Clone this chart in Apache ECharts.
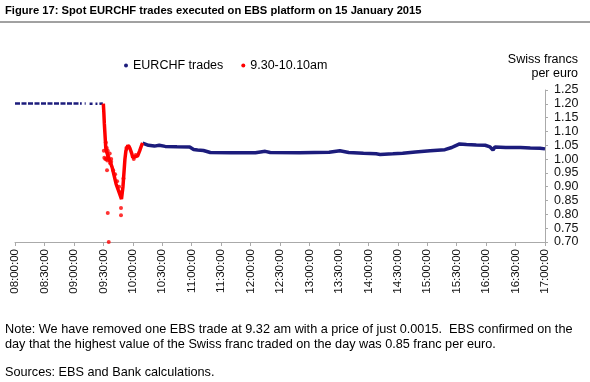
<!DOCTYPE html>
<html>
<head>
<meta charset="utf-8">
<script src="https://cdn.jsdelivr.net/npm/echarts@6/dist/echarts.min.js"></script>
<style>
html,body{margin:0;padding:0;background:#fff;}
#c{width:590px;height:382px;}
</style>
</head>
<body>
<div id="c"></div>
<script>
// ---- Data ----
var xTicks = ['08:00:00','08:30:00','09:00:00','09:30:00','10:00:00','10:30:00','11:00:00','11:30:00','12:00:00','12:30:00','13:00:00','13:30:00','14:00:00','14:30:00','15:00:00','15:30:00','16:00:00','16:30:00','17:00:00'];
var yTicks = [0.70,0.75,0.80,0.85,0.90,0.95,1.00,1.05,1.10,1.15,1.20,1.25];

// Blue trades before 09:30 (sparse, null = gap)
var preTimes  = ['08:00','09:08',null,'09:11','09:12',null,'09:16','09:19',null,'09:22','09:24',null,'09:26','09:29:30'];
var preValues = [1.201,1.201,null,1.201,1.201,null,1.200,1.200,null,1.200,1.200,null,1.200,1.201];

// Blue trades after 10:10
var postTimes  = ['10:10','10:12','10:16','10:22','10:27','10:33','10:45','10:58','11:02','11:06','11:12','11:19','11:40','12:05','12:15','12:20','12:50','13:20','13:31','13:40','13:55','14:08','14:12','14:25','14:35','14:48','15:03','15:18','15:25','15:28','15:33','15:40','15:50','15:59','16:04','16:07','16:09','16:20','16:35','16:45','16:55','17:00'];
var postValues = [1.058,1.052,1.050,1.047,1.050,1.046,1.045,1.044,1.035,1.033,1.031,1.024,1.023,1.023,1.028,1.024,1.023,1.025,1.030,1.024,1.021,1.019,1.017,1.019,1.021,1.026,1.030,1.034,1.042,1.047,1.055,1.053,1.051,1.050,1.044,1.033,1.044,1.042,1.042,1.040,1.039,1.037];

// Red trades 9.30-10.10am, main path
var redTimes  = ['09:30:00','09:30:30','09:31:00','09:31:30','09:32:00','09:32:30','09:33:00','09:34:00','09:35:00','09:36:00','09:37:00','09:39:00','09:41:00','09:43:00','09:45:00','09:47:00','09:48:30','09:49:00','09:50:00','09:51:00','09:52:00','09:53:00','09:55:00','09:57:00','09:59:00','10:00:00','10:02:00','10:05:00','10:07:00','10:09:00','10:10:00'];
var redValues = [1.201,1.17,1.13,1.10,1.07,1.04,1.03,1.02,1.005,1.00,0.99,0.97,0.94,0.91,0.89,0.87,0.855,0.86,0.90,0.95,1.00,1.03,1.05,1.04,1.02,1.005,1.01,1.012,1.03,1.05,1.058];

// Red scattered trades (blob and outliers)
var redDotTimes  = ['09:30:30','09:31:00','09:32:00','09:32:30','09:33:00','09:33:30','09:33:45','09:34:00','09:34:30','09:34:30','09:35:00','09:35:30','09:36:00','09:36:30','09:37:00','09:38:00','09:38:00','09:40:00','09:42:00','09:44:00','09:46:00','09:47:00','09:48:00','09:48:00','09:50:30','09:53:30','09:56:00','10:01:00','10:03:00'];
var redDotValues = [1.03,1.005,1.00,1.06,1.00,1.04,0.96,0.995,1.03,0.805,1.01,0.70,1.00,1.02,0.985,1.00,0.99,0.96,0.945,0.92,0.90,0.88,0.823,0.797,0.93,1.04,1.045,1.00,1.015];

// ---- Helpers ----
function toMin(t){ if(t===null) return null; var p=t.split(':'); return (+p[0]-8)*60 + (+p[1]) + (p[2]? +p[2]/60 : 0); }
function pairs(ts, vs){ return ts.map(function(t,i){ return t===null ? [null,null] : [toMin(t), vs[i]]; }); }

var FONT = "'Liberation Sans', Arial, sans-serif";
var BLUE = '#1c1c7c';
var RED = '#ff0000';

var chart = echarts.init(document.getElementById('c'), null, {renderer:'canvas'});
chart.setOption({
  animation:false,
  backgroundColor:'#fff',
  textStyle:{fontFamily:FONT},
  grid:{left:15, right:45, top:90, bottom:140},
  legend:{
    left:119, top:54, icon:'circle', itemWidth:4, itemHeight:4, itemGap:18,
    textStyle:{fontFamily:FONT, fontSize:12.5, color:'#000'},
    data:[{name:'EURCHF trades', itemStyle:{color:BLUE}},{name:'9.30-10.10am', itemStyle:{color:RED}}]
  },
  xAxis:{
    type:'value', min:0, max:540, interval:30,
    axisLine:{show:true, onZero:false, lineStyle:{color:'#aaa', width:1}},
    axisTick:{show:true, length:4, lineStyle:{color:'#aaa'}},
    splitLine:{show:false},
    axisLabel:{rotate:90, margin:7, fontSize:11.5, color:'#111', fontFamily:FONT,
      formatter:function(v){ return xTicks[Math.round(v/30)]; }}
  },
  yAxis:{
    type:'value', position:'right', min:0.70, max:1.25, interval:0.05,
    axisLine:{show:true, onZero:false, lineStyle:{color:'#aaa', width:1}},
    axisTick:{show:true, length:3, lineStyle:{color:'#aaa'}},
    splitLine:{show:false},
    axisLabel:{margin:9, fontSize:12.5, color:'#111', fontFamily:FONT,
      formatter:function(v){ return v.toFixed(2); }}
  },
  series:[
    {name:'EURCHF trades', type:'line', data:pairs(preTimes, preValues), showSymbol:false, connectNulls:false,
      lineStyle:{color:BLUE, width:2.5, type:[5,1.5]}, itemStyle:{color:BLUE}},
    {name:'EURCHF trades', type:'line', data:pairs(postTimes, postValues), showSymbol:false,
      lineStyle:{color:BLUE, width:3.5}, itemStyle:{color:BLUE}},
    {name:'9.30-10.10am', type:'line', data:pairs(redTimes, redValues), showSymbol:false,
      lineStyle:{color:RED, width:3.5}, itemStyle:{color:RED}},
    {name:'9.30-10.10am', type:'scatter', data:pairs(redDotTimes, redDotValues), symbolSize:4,
      itemStyle:{color:RED}}
  ],
  graphic:[
    {type:'text', left:5, top:5, style:{text:'Figure 17: Spot EURCHF trades executed on EBS platform on 15 January 2015', font:"bold 11.2px "+FONT, fill:'#000'}},
    {type:'line', shape:{x1:0,y1:22,x2:590,y2:22}, style:{stroke:'#444', lineWidth:1}},
    {type:'text', right:12, top:53, style:{text:'Swiss francs', font:"12.5px "+FONT, fill:'#000', textAlign:'right'}},
    {type:'text', right:12, top:67, style:{text:'per euro', font:"12.5px "+FONT, fill:'#000', textAlign:'right'}},
    {type:'text', left:5, top:323, style:{text:'Note: We have removed one EBS trade at 9.32 am with a price of just 0.0015.  EBS confirmed on the', font:"12.7px "+FONT, fill:'#000'}},
    {type:'text', left:5, top:338, style:{text:'day that the highest value of the Swiss franc traded on the day was 0.85 franc per euro.', font:"12.7px "+FONT, fill:'#000'}},
    {type:'text', left:5, top:366, style:{text:'Sources: EBS and Bank calculations.', font:"12.7px "+FONT, fill:'#000'}}
  ]
});
</script>
</body>
</html>
